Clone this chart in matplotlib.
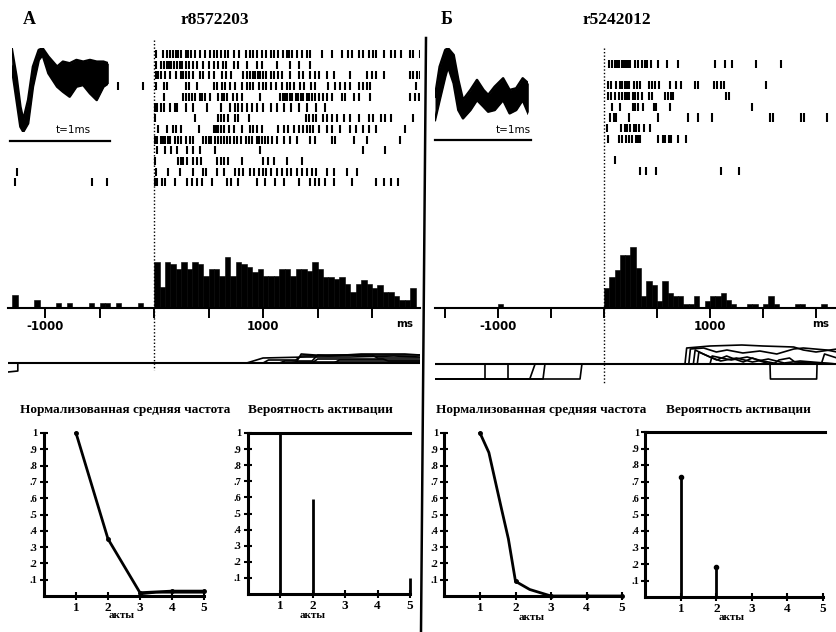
import numpy as np
import matplotlib
matplotlib.use("Agg")
import matplotlib.pyplot as plt
from matplotlib import transforms
from matplotlib.lines import Line2D

# ---------------- DATA ----------------
panel_labels = ["А", "Б"]
unit_names = ["r8572203", "r5242012"]

# spike rasters (ms relative to stimulus), one list per trial
raster_a = [
    [20, 80, 120, 150, 170, 200, 220, 250, 290, 310, 340, 380, 420, 470, 510, 550, 580, 610, 650, 680, 730, 780, 840, 880, 910, 940, 990, 1030, 1070, 1100, 1140, 1180, 1220, 1240, 1270, 1310, 1360, 1400, 1430, 1540, 1630, 1720, 1780, 1820, 1880, 1920, 1970, 2010, 2040, 2110, 2170, 2210, 2270, 2350, 2380, 2440],
    [20, 60, 90, 120, 140, 160, 180, 210, 240, 260, 290, 320, 360, 390, 450, 500, 550, 590, 630, 660, 730, 770, 850, 940, 990, 1130, 1250, 1330, 1430],
    [20, 40, 60, 100, 150, 200, 250, 270, 290, 320, 360, 420, 450, 500, 550, 620, 660, 710, 820, 850, 880, 910, 930, 950, 970, 1000, 1030, 1070, 1100, 1140, 1170, 1250, 1330, 1370, 1430, 1480, 1510, 1590, 1650, 1800, 1950, 2000, 2040, 2110, 2350, 2380, 2410, 2440],
    [-330, -100, 20, 90, 120, 290, 320, 390, 550, 580, 620, 650, 700, 740, 810, 850, 880, 910, 960, 1000, 1030, 1070, 1120, 1170, 1220, 1250, 1280, 1340, 1380, 1440, 1480, 1600, 1660, 1710, 1750, 1800, 1880, 1920, 1950, 1980, 2400],
    [90, 270, 290, 320, 350, 380, 420, 440, 470, 510, 590, 620, 640, 670, 720, 760, 810, 970, 1160, 1180, 1200, 1220, 1250, 1270, 1300, 1320, 1350, 1370, 1400, 1420, 1450, 1480, 1510, 1550, 1590, 1630, 1720, 1750, 1830, 1880, 1980, 2350, 2390, 2430],
    [10, 30, 60, 90, 150, 190, 210, 290, 360, 490, 610, 700, 740, 770, 810, 850, 900, 940, 1000, 1070, 1130, 1190, 1260, 1330, 1400, 1490, 1570],
    [10, 380, 590, 610, 640, 680, 740, 770, 870, 1390, 1420, 1460, 1490, 1550, 1590, 1630, 1680, 1740, 1800, 1880, 1970, 2010, 2080, 2120, 2170, 2380],
    [40, 120, 170, 200, 250, 410, 550, 570, 590, 610, 640, 690, 730, 810, 880, 910, 940, 990, 1140, 1190, 1230, 1280, 1330, 1370, 1400, 1430, 1460, 1510, 1590, 1630, 1710, 1800, 1850, 1920, 1970, 2040, 2300],
    [10, 30, 60, 80, 100, 130, 150, 190, 220, 250, 290, 330, 360, 450, 480, 500, 520, 560, 590, 610, 640, 670, 700, 730, 760, 800, 840, 870, 900, 940, 960, 990, 1020, 1050, 1080, 1130, 1190, 1250, 1310, 1430, 1480, 1630, 1660, 1830, 1950, 2260],
    [30, 100, 160, 210, 300, 360, 420, 560, 970, 1920, 2120],
    [10, 220, 250, 270, 300, 360, 390, 430, 580, 610, 640, 680, 810, 1000, 1050, 1100, 1220, 1360],
    [-1260, 20, 130, 240, 360, 450, 480, 580, 640, 740, 780, 820, 880, 920, 960, 1000, 1030, 1070, 1130, 1170, 1220, 1260, 1310, 1360, 1400, 1450, 1490, 1590, 1650, 1770, 1860],
    [-1280, -570, -430, 10, 30, 70, 100, 190, 300, 350, 390, 440, 530, 670, 710, 770, 940, 1020, 1110, 1190, 1330, 1430, 1480, 1510, 1570, 1650, 1820, 2040, 2110, 2170, 2240],
]

raster_b = [
    [50, 80, 100, 120, 140, 170, 180, 200, 220, 240, 250, 290, 320, 360, 390, 410, 440, 510, 590, 700, 1050, 1140, 1210, 1430, 1670],
    [],
    [40, 70, 110, 150, 170, 200, 220, 240, 280, 310, 340, 420, 450, 480, 520, 620, 680, 730, 860, 890, 1040, 1070, 1100, 1130, 1530],
    [40, 70, 100, 140, 170, 200, 220, 240, 270, 290, 320, 360, 420, 450, 580, 600, 630, 650, 1150, 1180],
    [80, 150, 270, 290, 320, 370, 470, 490, 620, 1400],
    [60, 90, 110, 240, 510, 790, 890, 1020, 1570, 1590, 1860, 1890, 2100],
    [30, 160, 200, 220, 250, 280, 300, 330, 380, 430],
    [40, 140, 170, 210, 240, 260, 300, 320, 340, 510, 560, 580, 610, 630, 700, 770],
    [],
    [100],
    [340, 400, 490, 1100, 1270],
]

# peri-stimulus histograms (50 ms bins)
bin_ms = 50
hist_a_pre_starts = [-1300, -1100, -900, -800, -600, -500, -450, -350, -150]
hist_a_pre = [13, 8, 5, 5, 5, 5, 5, 5, 5]
hist_a_post = [46, 21, 46, 44, 39, 46, 39, 46, 44, 32, 39, 39, 32, 51, 32, 46,
               44, 41, 36, 39, 32, 32, 32, 39, 39, 32, 39, 39, 37, 46, 39, 31,
               31, 29, 31, 24, 16, 24, 28, 24, 20, 23, 16, 16, 12, 8, 8, 20]
hist_b_pre_starts = [-1000]
hist_b_pre = [4]
hist_b_post = [20, 31, 38, 53, 53, 61, 40, 12, 27, 23, 7, 27, 15, 12, 12, 4,
               4, 12, 0, 7, 12, 12, 15, 8, 4, 0, 0, 4, 4, 0, 4, 12,
               4, 0, 0, 0, 4, 4, 0, 0, 0, 4, 0, 0]

hist_ticks_a = [-1000, -500, 0, 500, 1000, 1500, 2000]
hist_ticklabels_a = ["-1000", "", "", "", "1000", "", ""]
hist_ticks_b = [-1500, -1000, -500, 0, 500, 1000, 1500, 2000]
hist_ticklabels_b = ["", "-1000", "", "", "", "1000", "", ""]

# behavioural traces (time ms, level)
traces_a_t = [
    [-1340, -1250, -1250, 2440],
    [-1340, 850, 1000, 1400, 1800, 2200, 2440],
    [-1340, 1000, 1050, 1300, 1350, 1900, 2440],
    [-1340, 1150, 1200, 1450, 1500, 2000, 2050, 2440],
    [-1340, 1300, 1350, 1600, 1900, 2300, 2440],
    [-1340, 1450, 1500, 2100, 2150, 2440],
    [-1340, 1650, 1700, 2440],
    [-1340, 1250, 1300, 2440],
]
traces_a_v = [
    [-9, -8, 0, 0],
    [0, 0, 5, 6, 6, 7, 6],
    [0, 0, 3, 3, 7, 8, 8],
    [0, 0, 2, 2, 8, 8, 5, 5],
    [0, 0, 9, 7, 9, 9, 8],
    [0, 0, 4, 4, 2, 2],
    [0, 0, 3, 3],
    [0, 0, 1, 1],
]
traces_b_t = [
    [-1594, -1123, -1123, 2198],
    [-1594, -906, -906, 2198],
    [-1594, -700, -650, 2198],
    [-1594, -575, -557, 2198],
    [-1594, -226, -208, 2198],
    [-1594, 1566, 1570, 2006, 2010, 2198],
    [-1594, 764, 780, 1000, 1300, 1500, 1790, 1880, 2000, 2198],
    [-1594, 800, 815, 940, 1060, 1160, 1310, 1470, 1630, 1790, 1880, 2100, 2198],
    [-1594, 843, 860, 937, 1063, 1157, 1230, 1314, 1400, 1472, 1566, 2198],
    [-1594, 880, 895, 1000, 1100, 1250, 1400, 1550, 1700, 1850, 2198],
    [-1594, 1000, 1020, 1200, 1350, 1500, 1650, 2198],
    [-1594, 2050, 2080, 2198],
    [-1594, 1600, 1650, 1750, 1800, 2198],
]
traces_b_v = [
    [-15, -15, 0, 0],
    [-15, -15, 0, 0],
    [-15, -15, 0, 0],
    [-15, -15, 0, 0],
    [-15, -15, 0, 0],
    [0, 0, -15, -15, 0, 0],
    [0, 0, 16, 18, 19, 18, 17, 14, 12, 15],
    [0, 0, 15, 16, 12, 14, 11, 13, 10, 15, 16, 14, 12],
    [0, 0, 14, 10, 4, 8, 5, 2, 6, 3, 0, 0],
    [0, 0, 12, 7, 3, 6, 2, 5, 1, 3, 0],
    [0, 0, 8, 4, 7, 3, 0, 0],
    [0, 0, 10, 6],
    [0, 0, 4, 6, 2, 0],
]

# spike waveforms (envelopes)
wave_a_t = [0, 0.05, 0.09, 0.12, 0.17, 0.22, 0.28, 0.32, 0.38, 0.47, 0.53, 0.60, 0.67, 0.74, 0.81, 0.88, 0.95, 1.0]
wave_a_hi = [125, 40, -50, -90, -30, 70, 120, 125, 100, 70, 85, 80, 90, 85, 90, 85, 85, 80]
wave_a_lo = [70, -30, -110, -125, -100, 10, 90, 105, 50, 10, -5, -20, 10, 15, -10, -30, 10, 20]
wave_b_t = [0, 0.05, 0.11, 0.14, 0.20, 0.25, 0.30, 0.38, 0.45, 0.52, 0.57, 0.64, 0.73, 0.80, 0.87, 0.94, 1.0]
wave_b_hi = [-20, 70, 120, 125, 105, 30, -30, 0, 30, 0, -15, 10, 35, 0, 5, 35, 20]
wave_b_lo = [-90, -30, 40, 70, 20, -60, -85, -60, -30, -50, -65, -60, -30, -70, -60, -30, -70]

# summary plots
acts = [1, 2, 3, 4, 5]
rate_a = [1.0, 0.35, 0.02, 0.03, 0.03]
rate_a_extra_x = [3, 3.5, 4, 5]
rate_a_extra = [0.01, 0.02, 0.02, 0.02]
prob_a = [1.0, 0.59, 0.0, 0.0, 0.1]
rate_b_x = [1, 1.25, 1.6, 1.8, 2, 2.4, 3, 4, 5]
rate_b = [1.0, 0.88, 0.54, 0.35, 0.09, 0.04, 0.0, 0.0, 0.0]
prob_b = [0.73, 0.18, 0.0, 0.0, 0.0]
prob_max = 1.0
ytick_vals = [0.1, 0.2, 0.3, 0.4, 0.5, 0.6, 0.7, 0.8, 0.9, 1.0]
ytick_labels = [".1", ".2", ".3", ".4", ".5", ".6", ".7", ".8", ".9", "1"]
title_rate = "Нормализованная средняя частота"
title_prob = "Вероятность активации"
xlabel_acts = "акты"

# ---------------- FIGURE ----------------
W, H = 837, 632
fig = plt.figure(figsize=(W / 100, H / 100), dpi=100)
fig.patch.set_facecolor("white")

SERIF = ["Liberation Serif", "DejaVu Serif"]
SANS = ["DejaVu Sans"]


def px_axes(l, t, r, b):
    return fig.add_axes([l / W, 1 - b / H, (r - l) / W, (b - t) / H])


def ptext(x, y, s, **kw):
    kw.setdefault("ha", "center")
    kw.setdefault("va", "center")
    fig.text(x / W, 1 - y / H, s, **kw)


def bare(ax):
    for sp in ax.spines.values():
        sp.set_visible(False)
    ax.set_xticks([])
    ax.set_yticks([])
    ax.patch.set_alpha(0)


def fig_line(xs, ys, **kw):
    fig.add_artist(Line2D([x / W for x in xs], [1 - y / H for y in ys], **kw))


# panel headers
ptext(29, 20, panel_labels[0], family=SERIF, fontsize=13, fontweight="bold")
ptext(215, 20, unit_names[0], family=SERIF, fontsize=12.5, fontweight="bold")
ptext(447, 20, panel_labels[1], family=SERIF, fontsize=13, fontweight="bold")
ptext(617, 20, unit_names[1], family=SERIF, fontsize=12.5, fontweight="bold")

# divider
fig_line([426, 421], [38, 632], color="k", lw=1.8)

panels = [
    dict(left=8, right=420, xlim=(-1340, 2440), raster=raster_a, r_top=43.3, r_bot=193.1,
         pre_s=hist_a_pre_starts, pre=hist_a_pre, post=hist_a_post,
         ticks=hist_ticks_a, tlabels=hist_ticklabels_a, ms_x=2303,
         tr_t=traces_a_t, tr_v=traces_a_v, base=363, stim_top=40, stim_bot=370),
    dict(left=435, right=837, xlim=(-1594, 2198), raster=raster_b, r_top=53.3, r_bot=181.7,
         pre_s=hist_b_pre_starts, pre=hist_b_pre, post=hist_b_post,
         ticks=hist_ticks_b, tlabels=hist_ticklabels_b, ms_x=2040,
         tr_t=traces_b_t, tr_v=traces_b_v, base=364, stim_top=48, stim_bot=383),
]

for p in panels:
    # raster
    axr = px_axes(p["left"], p["r_top"], p["right"], p["r_bot"])
    n = len(p["raster"])
    axr.eventplot(p["raster"], lineoffsets=list(range(n)), linelengths=0.75,
                  linewidths=1.5, colors="k")
    axr.set_xlim(*p["xlim"])
    axr.set_ylim(n, -1)
    bare(axr)

    # histogram
    axh = px_axes(p["left"], 230, p["right"], 308)
    post_starts = [i * bin_ms for i in range(len(p["post"]))]
    axh.bar(p["pre_s"], p["pre"], width=bin_ms, align="edge", color="k", edgecolor="k", lw=0.4)
    axh.bar(post_starts, p["post"], width=bin_ms, align="edge", color="k", edgecolor="k", lw=0.4)
    axh.set_xlim(*p["xlim"])
    axh.set_ylim(0, 78)
    for k in ("top", "right", "left"):
        axh.spines[k].set_visible(False)
    axh.spines["bottom"].set_linewidth(1.5)
    axh.set_yticks([])
    axh.set_xticks(p["ticks"])
    axh.set_xticklabels(p["tlabels"], family=SANS, fontsize=8.5, fontweight="bold")
    axh.tick_params(axis="x", direction="out", length=7, width=1.4, pad=2)
    axh.patch.set_alpha(0)
    axh.text(p["ms_x"], -11, "ms", ha="center", va="top", family=SANS,
             fontsize=7.5, fontweight="bold")

    # behavioural traces
    axt = px_axes(p["left"], 335, p["right"], 390)
    for tt, vv in zip(p["tr_t"], p["tr_v"]):
        axt.plot(tt, vv, color="k", lw=1.2)
    axt.axhline(0, color="k", lw=1.5)
    axt.set_xlim(*p["xlim"])
    axt.set_ylim(-(390 - p["base"]), p["base"] - 335)
    bare(axt)

    # stimulus marker (dotted)
    tr = transforms.blended_transform_factory(axh.transData, fig.transFigure)
    fig.add_artist(Line2D([0, 0], [1 - p["stim_top"] / H, 1 - p["stim_bot"] / H],
                          transform=tr, color="k", lw=1.0, linestyle=(0, (1, 1.5))))

# waveforms
for (l, r), wt, lo, hi, lx in [((11.7, 108.3), wave_a_t, wave_a_lo, wave_a_hi, 73),
                                ((435, 528.3), wave_b_t, wave_b_lo, wave_b_hi, 513)]:
    axw = px_axes(l, 48.3, r, 131.7)
    axw.fill_between(wt, lo, hi, color="k", lw=0)
    axw.plot(wt, lo, color="k", lw=1.8)
    axw.plot(wt, hi, color="k", lw=1.8)
    axw.set_xlim(0, 1)
    axw.set_ylim(-125, 125)
    bare(axw)
    ptext(lx, 130, "t=1ms", family=SANS, fontsize=7.5)
fig_line([10, 110], [141, 141], color="k", lw=1.6)
fig_line([435, 531], [140, 140], color="k", lw=1.6)


# summary plots
def summary_axes(l, t, r, b):
    ax = px_axes(l, t, r, b)
    ax.set_xlim(0, 5)
    ax.set_ylim(0, 1)
    for k in ("top", "right"):
        ax.spines[k].set_visible(False)
    for k in ("left", "bottom"):
        ax.spines[k].set_linewidth(2.2)
    ax.set_xticks(acts)
    ax.set_xticklabels([str(a) for a in acts], family=SERIF, fontsize=9.5, fontweight="bold")
    ax.set_yticks(ytick_vals)
    ax.set_yticklabels(ytick_labels, family=SERIF, fontsize=7.5, fontweight="bold")
    ax.tick_params(direction="inout", length=6, width=1.5, pad=1.5)
    ax.patch.set_alpha(0)
    return ax


boxes = {
    "a1": (44, 433, 204, 596),
    "a2": (248, 433, 410, 594),
    "b1": (444.5, 433, 622, 596),
    "b2": (645.5, 432, 823, 597),
}

ax = summary_axes(*boxes["a1"])
ax.plot(acts, rate_a, color="k", lw=2.0, clip_on=False)
ax.plot(rate_a_extra_x, rate_a_extra, color="k", lw=1.2, clip_on=False)
ax.plot(acts, rate_a, "o", color="k", ms=2.5, clip_on=False)

ax = summary_axes(*boxes["a2"])
ax.axhline(prob_max, color="k", lw=2.2, clip_on=False)
ax.vlines(acts, 0, prob_a, color="k", lw=2.0, clip_on=False)

ax = summary_axes(*boxes["b1"])
ax.plot(rate_b_x, rate_b, color="k", lw=2.0, clip_on=False)
ax.plot(acts, [rate_b[rate_b_x.index(a)] for a in acts], "o", color="k", ms=2.5, clip_on=False)

ax = summary_axes(*boxes["b2"])
ax.axhline(prob_max, xmax=1.01, color="k", lw=2.2, clip_on=False)
ax.vlines(acts, 0, prob_b, color="k", lw=2.0, clip_on=False)
ax.plot(acts[:2], prob_b[:2], "o", color="k", ms=3, clip_on=False)

# titles and x labels
for cx, s in [(125, title_rate), (320, title_prob), (541, title_rate), (738, title_prob)]:
    ptext(cx, 410, s, family=SERIF, fontsize=9.5, fontweight="bold")
for cx, cy in [(122, 616), (313, 616), (532, 618), (732, 618)]:
    ptext(cx, cy, xlabel_acts, family=SERIF, fontsize=8, fontweight="bold")

fig.savefig("out.png", dpi=100, facecolor="white")
